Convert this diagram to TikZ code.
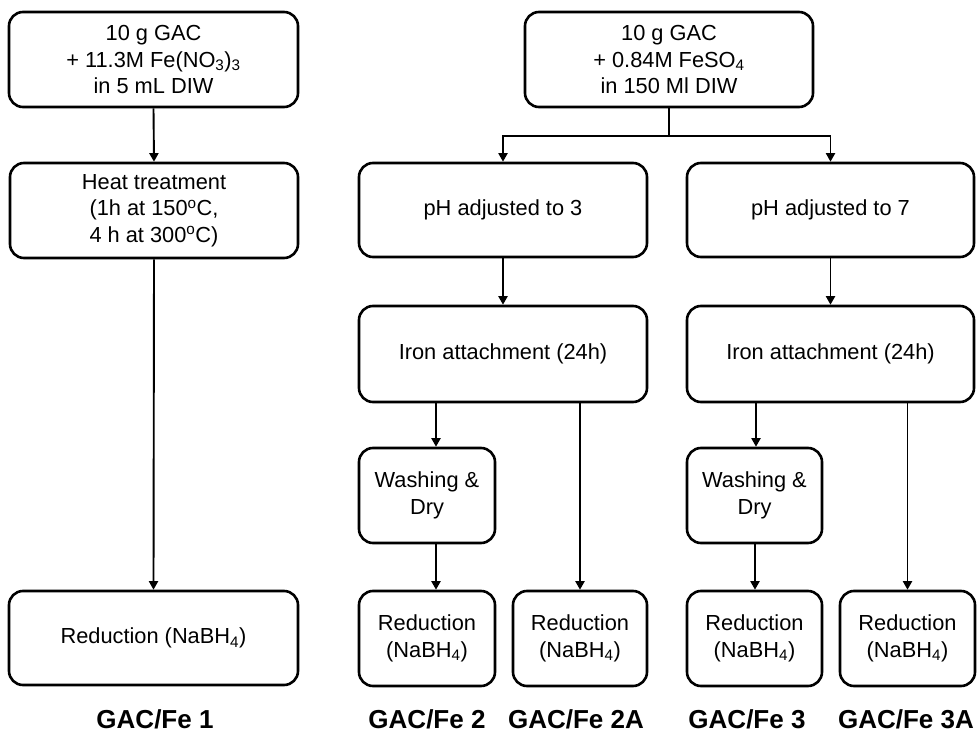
\documentclass[tikz,border=0pt]{standalone}
\usepackage{fontspec}
\setmainfont{Liberation Sans}
\usetikzlibrary{arrows.meta,positioning,calc}

\tikzset{
  stepbox/.style={draw=black, line width=2.6pt, rounded corners=14pt, align=center, inner sep=0pt, font=\fontsize{21.8}{26.5}\selectfont},
  flow/.style={-{Triangle[length=8.5pt,width=9pt]}, line width=1.9pt},
  flowline/.style={line width=1.9pt},
  sample/.style={font=\fontsize{26}{30}\selectfont\bfseries}
}

\begin{document}
\begin{tikzpicture}[x=1pt, y=-1pt]
  \useasboundingbox (0,0) rectangle (980,733);

  %--- route 1: nitrate + heat ---
  % Start
  \node[stepbox, minimum width=289pt, minimum height=95pt] (src1) at (153.5,59.5) {10 g GAC\\+ 11.3M Fe(NO\textsubscript{3})\textsubscript{3}\\in 5 mL DIW};

  % Heat treatment
  \node[stepbox, minimum width=288pt, minimum height=95pt] (heat) at (154,210.5) {Heat treatment\\(1h at 150\textsuperscript{o}C,\\4 h at 300\textsuperscript{o}C)};

  % Reduction
  \node[stepbox, minimum width=289pt, minimum height=94pt] (red1) at (153.5,638) {Reduction (NaBH\textsubscript{4})};

  \draw[flow] (src1.south) -- (heat.north);
  \draw[flow] (heat.south) -- (red1.north);

  %--- route 2: sulfate, pH 3 / pH 7 ---
  % Start
  \node[stepbox, minimum width=288pt, minimum height=95pt] (src2) at (669,59.5) {10 g GAC\\+ 0.84M FeSO\textsubscript{4}\\in 150 Ml DIW};

  % pH steps
  \node[stepbox, minimum width=288pt, minimum height=94pt] (ph3) at (503,210) {pH adjusted to 3};
  \node[stepbox, minimum width=287pt, minimum height=94pt] (ph7) at (830.5,210) {pH adjusted to 7};

  % Iron attachment
  \node[stepbox, minimum width=288pt, minimum height=96pt] (iron3) at (503,354) {Iron attachment (24h)};
  \node[stepbox, minimum width=287pt, minimum height=96pt] (iron7) at (830.5,354) {Iron attachment (24h)};

  % Washing
  \node[stepbox, minimum width=136pt, minimum height=95pt] (wash3) at (427,495.5) {Washing \&\\Dry};
  \node[stepbox, minimum width=135pt, minimum height=95pt] (wash7) at (754.5,495.5) {Washing \&\\Dry};

  % Reduction
  \node[stepbox, minimum width=136pt, minimum height=95pt] (red2) at (427,638.5) {Reduction\\(NaBH\textsubscript{4})};
  \node[stepbox, minimum width=134pt, minimum height=95pt] (red2a) at (580,638.5) {Reduction\\(NaBH\textsubscript{4})};
  \node[stepbox, minimum width=135pt, minimum height=95pt] (red3) at (754.5,638.5) {Reduction\\(NaBH\textsubscript{4})};
  \node[stepbox, minimum width=135pt, minimum height=95pt] (red3a) at (907.5,638.5) {Reduction\\(NaBH\textsubscript{4})};

  \draw[flowline] (src2.south) -- ++(0,28) coordinate (split);
  \draw[flow] (split) -| (ph3.north);
  \draw[flow] (split) -| (ph7.north);
  \draw[flow] (ph3.south) -- (iron3.north);
  \draw[flow] (ph7.south) -- (iron7.north);
  \draw[flow] ([xshift=9pt]wash3.north |- iron3.south) -- ([xshift=9pt]wash3.north);
  \draw[flow] ([xshift=9pt]wash3.south) -- ([xshift=9pt]red2.north);
  \draw[flow] (red2a.north |- iron3.south) -- (red2a.north);
  \draw[flow] ([xshift=1.5pt]wash7.north |- iron7.south) -- ([xshift=1.5pt]wash7.north);
  \draw[flow] ([xshift=0.5pt]wash7.south) -- ([xshift=0.5pt]red3.north);
  \draw[flow] (red3a.north |- iron7.south) -- (red3a.north);

  %--- sample names ---
  \node[sample] (n1) at (155,719) {GAC/Fe 1};
  \node[sample] (n2) at (427,719) {GAC/Fe 2};
  \node[sample] (n2a) at (576,719) {GAC/Fe 2A};
  \node[sample] (n3) at (747,719) {GAC/Fe 3};
  \node[sample] (n3a) at (906,719) {GAC/Fe 3A};
\end{tikzpicture}
\end{document}
